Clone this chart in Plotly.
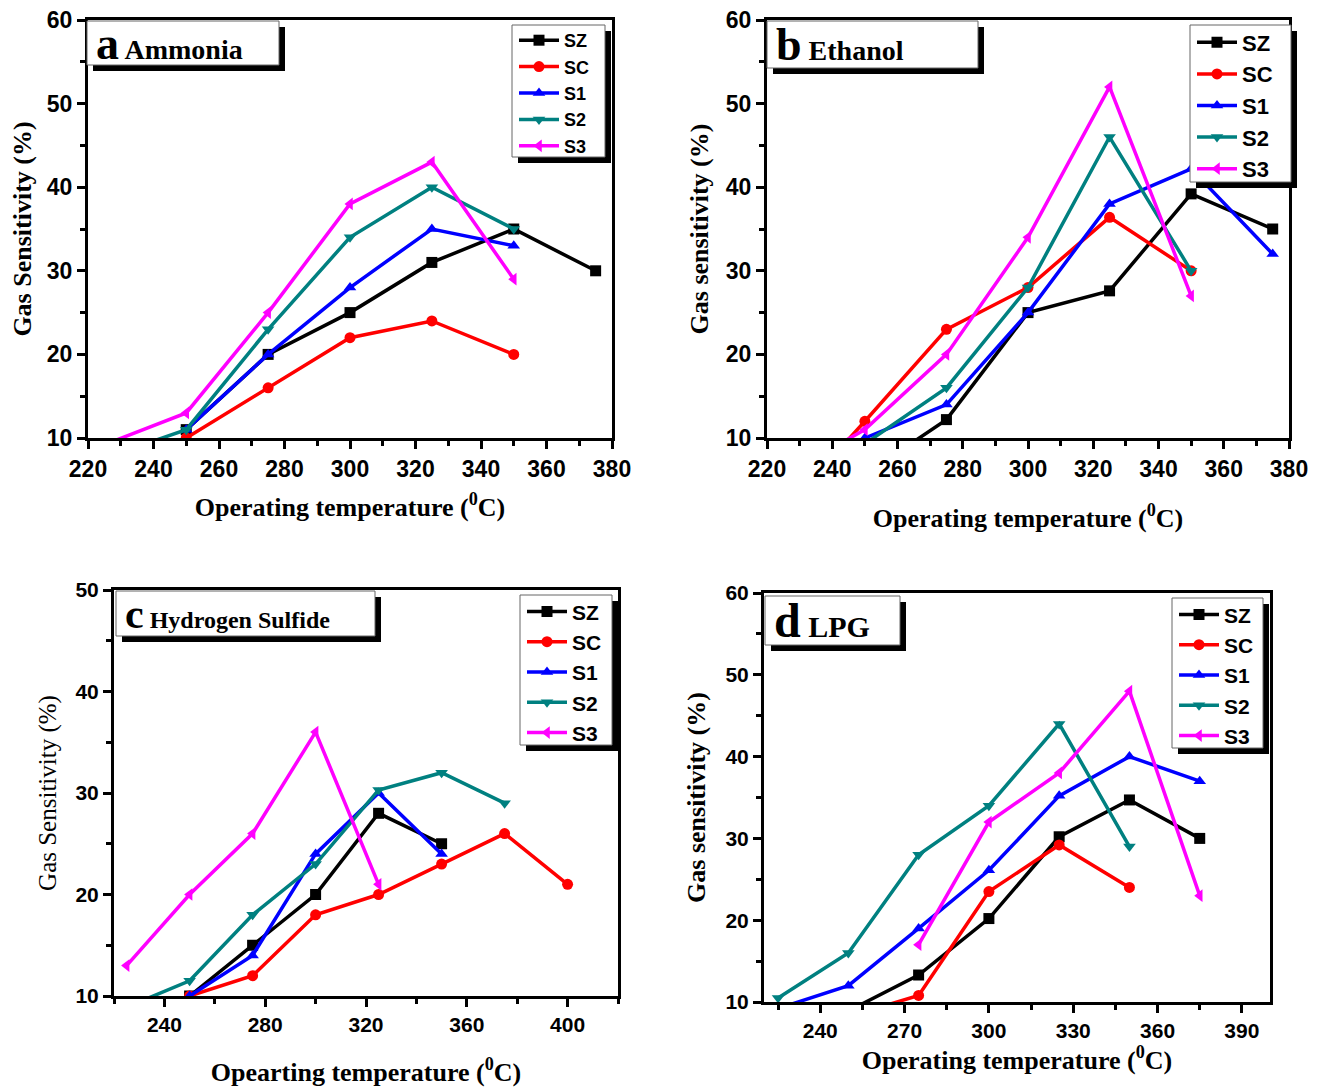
import plotly.graph_objects as go

W, H = 1324, 1090
OFF = 8  # page body margin offset compensation

# ---------------- data ----------------
# (a) Ammonia
a_T_SZ = [250, 275, 300, 325, 350, 375]; a_SZ = [11, 20, 25, 31, 35, 30]
a_T_SC = [250, 275, 300, 325, 350];      a_SC = [10, 16, 22, 24, 20]
a_T_S1 = [250, 275, 300, 325, 350];      a_S1 = [11, 20, 28, 35, 33]
a_T_S2 = [225, 250, 275, 300, 325, 350]; a_S2 = [7.6, 11, 23, 34, 40, 35]
a_T_S3 = [225, 250, 275, 300, 325, 350]; a_S3 = [9.2, 13, 25, 38, 43, 29]

# (b) Ethanol
b_T_SZ = [250, 275, 300, 325, 350, 375]; b_SZ = [5.6, 12.2, 25, 27.6, 39.2, 35]
b_T_SC = [240, 250, 275, 300, 325, 350]; b_SC = [7.7, 12, 23, 28, 36.4, 30]
b_T_S1 = [250, 275, 300, 325, 350, 375]; b_S1 = [10, 14, 25, 38, 42.2, 32]
b_T_S2 = [250, 275, 300, 325, 350];      b_S2 = [9.3, 16, 28, 46, 30]
b_T_S3 = [240, 250, 275, 300, 325, 350]; b_S3 = [8.8, 11, 20, 34, 52, 27]

# (c) Hydrogen Sulfide
c_T_SZ = [250, 275, 300, 325, 350];                c_SZ = [10, 15, 20, 28, 25]
c_T_SC = [250, 275, 300, 325, 350, 375, 400];      c_SC = [10, 12, 18, 20, 23, 26, 21]
c_T_S1 = [250, 275, 300, 325, 350];                c_S1 = [10, 14, 24, 30, 24]
c_T_S2 = [225, 250, 275, 300, 325, 350, 375];      c_S2 = [8.9, 11.5, 18, 23, 30.3, 32, 29]
c_T_S3 = [225, 250, 275, 300, 325];                c_S3 = [13, 20, 26, 36, 21]

# (d) LPG
d_T_SZ = [250, 275, 300, 325, 350, 375];           d_SZ = [8.9, 13.3, 20.2, 30.2, 34.7, 30]
d_T_SC = [250, 275, 300, 325, 350];                d_SC = [8.2, 10.8, 23.5, 29.2, 24]
d_T_S1 = [225, 250, 275, 300, 325, 350, 375];      d_S1 = [9.2, 12, 19, 26.1, 35.2, 40, 37]
d_T_S2 = [225, 250, 275, 300, 325, 350];           d_S2 = [10.5, 16, 28, 34, 44, 29]
d_T_S3 = [275, 300, 325, 350, 375];                d_S3 = [17, 32, 38, 48, 23]

series_names = ["SZ", "SC", "S1", "S2", "S3"]
colors = {"SZ": "#000000", "SC": "#ff0000", "S1": "#0000ff", "S2": "#008080", "S3": "#ff00ff"}
symbols = {"SZ": "square", "SC": "circle", "S1": "triangle-up", "S2": "triangle-down", "S3": "triangle-left"}

panels = [
    ("a", [(a_T_SZ, a_SZ), (a_T_SC, a_SC), (a_T_S1, a_S1), (a_T_S2, a_S2), (a_T_S3, a_S3)]),
    ("b", [(b_T_SZ, b_SZ), (b_T_SC, b_SC), (b_T_S1, b_S1), (b_T_S2, b_S2), (b_T_S3, b_S3)]),
    ("c", [(c_T_SZ, c_SZ), (c_T_SC, c_SC), (c_T_S1, c_S1), (c_T_S2, c_S2), (c_T_S3, c_S3)]),
    ("d", [(d_T_SZ, d_SZ), (d_T_SC, d_SC), (d_T_S1, d_S1), (d_T_S2, d_S2), (d_T_S3, d_S3)]),
]

# ---------------- layout helpers (page pixel -> paper) ----------------
def px(x):
    return (x - OFF) / W

def py(y):
    return 1 - (y - OFF) / H

# plot boxes in pixels: x0, x1, y0(top), y1(bottom)
boxes = {
    "a": (88, 612, 20, 438),
    "b": (767, 1289, 20, 438),
    "c": (114, 618, 590, 996),
    "d": (764, 1270, 593, 1002),
}

fig = go.Figure()

axis_ids = {"a": ("x", "y", "legend"), "b": ("x2", "y2", "legend2"),
            "c": ("x3", "y3", "legend3"), "d": ("x4", "y4", "legend4")}

for key, data in panels:
    xa, ya, lg = axis_ids[key]
    for name, (t, v) in zip(series_names, data):
        fig.add_trace(go.Scatter(
            x=t, y=v, name=name, mode="lines+markers",
            line=dict(color=colors[name], width=3.5),
            marker=dict(symbol=symbols[name], size=11, color=colors[name]),
            xaxis=xa, yaxis=ya, legend=lg, showlegend=True,
        ))

tick_font_ab = dict(family="Liberation Sans, Arial", size=23, color="black", weight="bold")
tick_font_cd = dict(family="Liberation Sans, Arial", size=21, color="black", weight="bold")
title_font = dict(family="Liberation Serif, Times New Roman", size=26, color="black", weight="bold")
title_font_c = dict(family="Liberation Serif, Times New Roman", size=25, color="black", weight="normal")

def xaxis_cfg(key, rng, dtick, minor_dtick, tfont, title, standoff):
    x0, x1, y0, y1 = boxes[key]
    return dict(domain=[px(x0), px(x1)], range=rng, dtick=dtick, tick0=0,
                automargin=False, ticklabeloverflow="allow",
                showgrid=False, zeroline=False, showline=True, linewidth=3,
                linecolor="black", mirror=True, ticks="outside", ticklen=8,
                tickwidth=3, tickcolor="black", tickfont=tfont,
                minor=dict(ticks="outside", ticklen=5, tickwidth=3, dtick=minor_dtick,
                           tick0=0, tickcolor="black"),
                title=dict(text=title, font=title_font, standoff=standoff))

def yaxis_cfg(key, rng, tfont, title, tf, standoff):
    x0, x1, y0, y1 = boxes[key]
    return dict(domain=[py(y1), py(y0)], range=rng, dtick=10, tick0=0,
                automargin=False, ticklabeloverflow="allow",
                showgrid=False, zeroline=False, showline=True, linewidth=3,
                linecolor="black", mirror=True, ticks="outside", ticklen=8,
                tickwidth=3, tickcolor="black", tickfont=tfont,
                minor=dict(ticks="outside", ticklen=5, tickwidth=3, dtick=5,
                           tick0=0, tickcolor="black"),
                title=dict(text=title, font=tf, standoff=standoff))

xt = "Operating temperature (<sup>0</sup>C)"
fig.update_layout(
    xaxis=dict(**xaxis_cfg("a", [220, 380], 20, 10, tick_font_ab, xt, 18), anchor="y"),
    yaxis=dict(**yaxis_cfg("a", [10, 60], tick_font_ab, "Gas Sensitivity (%)", title_font, 9), anchor="x"),
    xaxis2=dict(**xaxis_cfg("b", [220, 380], 20, 10, tick_font_ab, xt, 29), anchor="y2"),
    yaxis2=dict(**yaxis_cfg("b", [10, 60], tick_font_ab, "Gas sensitivity (%)", title_font, 10), anchor="x2"),
    xaxis3=dict(**xaxis_cfg("c", [220, 420], 40, 20, tick_font_cd,
                            "Opearting temperature (<sup>0</sup>C)", 28), anchor="y3"),
    yaxis3=dict(**yaxis_cfg("c", [10, 50], tick_font_cd, "Gas Sensitivity (%)", title_font_c, 12), anchor="x3"),
    xaxis4=dict(**xaxis_cfg("d", [220, 400], 30, 15, tick_font_cd, xt, 8), anchor="y4"),
    yaxis4=dict(**yaxis_cfg("d", [10, 60], tick_font_cd, "Gas sensitivity (%)", title_font, 13), anchor="x4"),
)

# ---------------- legends (box drawn as shapes, legend text on top) ----------------
legend_boxes = {
    # key: (x0, y0, x1, y1, font size)
    "a": (512, 25, 605, 157, 18),
    "b": (1190, 25, 1291, 182, 22),
    "c": (520, 595, 612, 745, 21),
    "d": (1172, 598, 1263, 748, 21),
}
shapes = []
for key, (x0, y0, x1, y1, fs) in legend_boxes.items():
    shapes.append(dict(type="rect", xref="paper", yref="paper", layer="above",
                       x0=px(x0 + 6), x1=px(x1 + 6), y0=py(y1 + 6), y1=py(y0 + 6),
                       fillcolor="black", line=dict(width=0)))
    shapes.append(dict(type="rect", xref="paper", yref="paper", layer="above",
                       x0=px(x0), x1=px(x1), y0=py(y1), y1=py(y0),
                       fillcolor="white", line=dict(color="#666666", width=1)))

def legend_cfg(key):
    x0, y0, x1, y1, fs = legend_boxes[key]
    h = fs * 1.3 + 3
    top = y0 + (y1 - y0) / 2 - 2.5 * h - 5 + 2
    return dict(x=px(x0 + 2), y=py(top), xanchor="left", yanchor="top",
                xref="paper", yref="paper", bgcolor="rgba(0,0,0,0)", borderwidth=0,
                font=dict(family="Liberation Sans, Arial", size=fs, color="black", weight="bold"),
                itemwidth=40, tracegroupgap=0)

fig.update_layout(legend=legend_cfg("a"), legend2=legend_cfg("b"),
                  legend3=legend_cfg("c"), legend4=legend_cfg("d"))

# ---------------- panel title boxes ----------------
title_boxes = {
    "a": (87, 21, 279, 65, "a", 46, "Ammonia", 28),
    "b": (767, 21, 978, 68, "b", 46, "Ethanol", 28),
    "c": (116, 591, 375, 636, "c", 42, "Hydrogen Sulfide", 24),
    "d": (765, 596, 900, 645, "d", 48, "LPG", 30),
}
annotations = []
for key, (x0, y0, x1, y1, letter, lsz, word, wsz) in title_boxes.items():
    shapes.append(dict(type="rect", xref="paper", yref="paper", layer="above",
                       x0=px(x0 + 6), x1=px(x1 + 6), y0=py(y1 + 6), y1=py(y0 + 6),
                       fillcolor="black", line=dict(width=0)))
    shapes.append(dict(type="rect", xref="paper", yref="paper", layer="above",
                       x0=px(x0), x1=px(x1), y0=py(y1), y1=py(y0),
                       fillcolor="white", line=dict(color="#666666", width=1)))
    annotations.append(dict(
        xref="paper", yref="paper", x=px(x0 + 7), y=py((y0 + y1) / 2),
        xanchor="left", yanchor="middle", showarrow=False,
        text=f"<span style='font-size:{lsz}px'>{letter}</span> {word}",
        font=dict(family="Liberation Serif, Times New Roman", size=wsz, color="black", weight="bold"),
    ))

fig.update_layout(
    width=W, height=H, autosize=False,
    margin=dict(l=0, r=0, t=0, b=0),
    paper_bgcolor="white", plot_bgcolor="white",
    shapes=shapes, annotations=annotations,
)

fig.write_html("out.html")
